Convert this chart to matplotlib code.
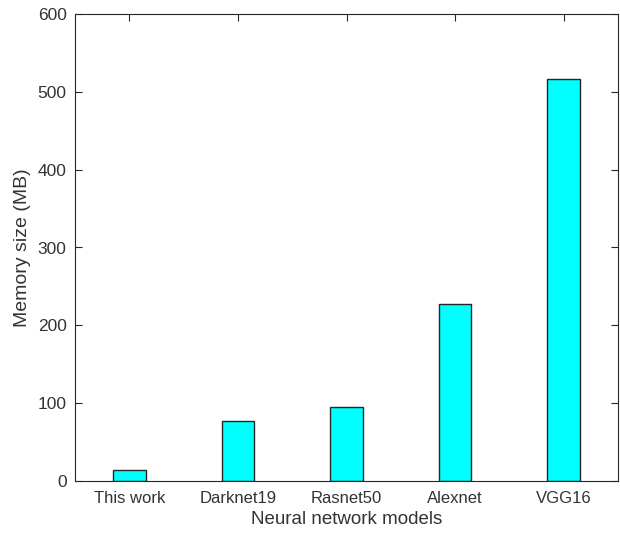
import matplotlib
matplotlib.use("Agg")
import matplotlib.pyplot as plt

categories = ["This work", "Darknet19", "Rasnet50", "Alexnet", "VGG16"]
memory_mb = [14, 77.5, 95, 227, 516]
yticks = [0, 100, 200, 300, 400, 500, 600]

plt.rcParams['font.family'] = ['Liberation Sans', 'DejaVu Sans']

fig = plt.figure(figsize=(6.2, 5.37), dpi=100)
ax = fig.add_axes([75/620, 56/537, 543/620, 467/537])

x = list(range(1, len(categories) + 1))
ax.bar(x, memory_mb, width=0.3, color='#00FFFF', edgecolor='#262626', linewidth=1.0, zorder=2)

ax.set_xlim(0.5, len(categories) + 0.5)
ax.set_ylim(0, 600)
ax.set_xticks(x)
ax.set_xticklabels(categories)
ax.set_yticks(yticks)

ax.tick_params(direction='in', top=True, right=True, length=5, width=0.8,
               colors='#262626', labelcolor='#333333')
ax.tick_params(axis='x', labelsize=12, pad=7)
ax.tick_params(axis='y', labelsize=12.5, pad=6)
for s in ax.spines.values():
    s.set_color('#262626')
    s.set_linewidth(0.8)

ax.set_xlabel('Neural network models', fontsize=13.5, color='#333333', labelpad=4)
ax.set_ylabel('Memory size (MB)', fontsize=14, color='#333333', labelpad=5)

fig.savefig('out.png', dpi=100)
